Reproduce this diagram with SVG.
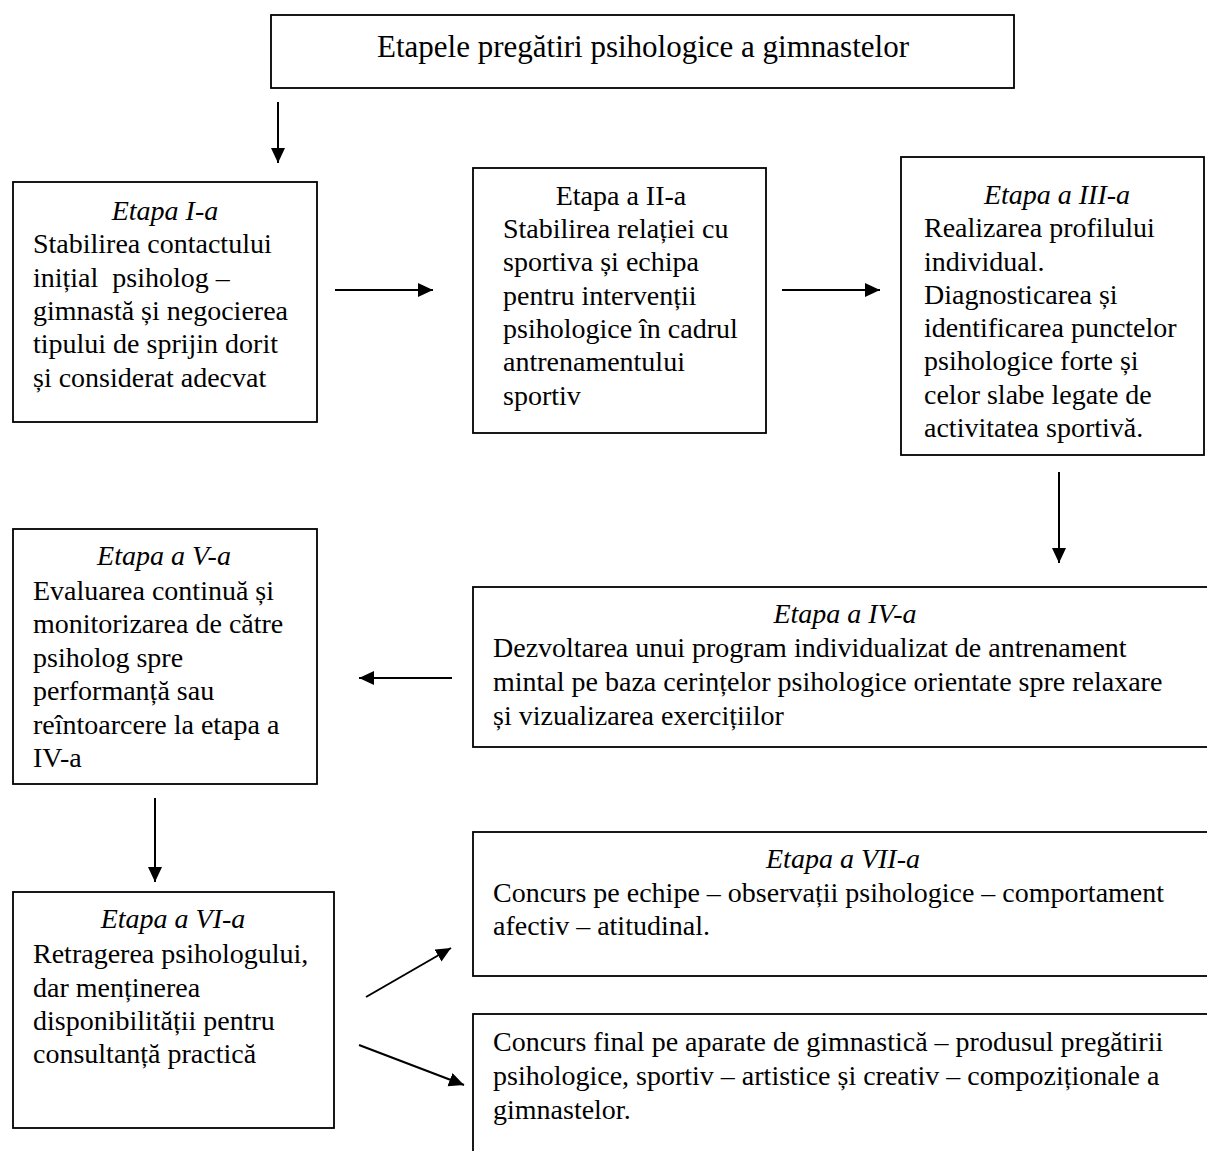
<svg xmlns="http://www.w3.org/2000/svg" width="1207" height="1151" viewBox="0 0 1207 1151">
  <style>
    .box { fill: #ffffff; stroke: #000000; stroke-width: 1.8; }
    .t { font-family: "Liberation Serif", "Times New Roman", serif; font-size: 28px; fill: #000000; }
    .h { font-style: italic; text-anchor: middle; }
    .hr { text-anchor: middle; }
    .title { font-size: 31px; text-anchor: middle; }
    .arrow { stroke: #000000; stroke-width: 2; fill: none; marker-end: url(#head); }
  </style>
  <defs>
    <marker id="head" markerUnits="userSpaceOnUse" markerWidth="16" markerHeight="16" refX="15" refY="7" orient="auto">
      <path d="M0,0 L15,7 L0,14 Z" fill="#000000"/>
    </marker>
  </defs>
  <rect width="1207" height="1151" fill="#ffffff"/>

  <g id="title">
    <rect class="box" x="271" y="15" width="743" height="73"/>
    <text class="t title" x="643" y="57">Etapele pregătiri psihologice a gimnastelor</text>
  </g>

  <g id="etapa1">
    <rect class="box" x="13" y="182" width="304" height="240"/>
    <text class="t h" x="165" y="220">Etapa I-a</text>
    <text class="t" x="33" y="253">Stabilirea contactului</text>
    <text class="t" x="33" y="287" xml:space="preserve">inițial  psiholog –</text>
    <text class="t" x="33" y="320">gimnastă și negocierea</text>
    <text class="t" x="33" y="353">tipului de sprijin dorit</text>
    <text class="t" x="33" y="387">și considerat adecvat</text>
  </g>

  <g id="etapa2">
    <rect class="box" x="473" y="168" width="293" height="265"/>
    <text class="t hr" x="621" y="205">Etapa a II-a</text>
    <text class="t" x="503" y="238">Stabilirea relației cu</text>
    <text class="t" x="503" y="271">sportiva și echipa</text>
    <text class="t" x="503" y="305">pentru intervenții</text>
    <text class="t" x="503" y="338">psihologice în cadrul</text>
    <text class="t" x="503" y="371">antrenamentului</text>
    <text class="t" x="503" y="405">sportiv</text>
  </g>

  <g id="etapa3">
    <rect class="box" x="901" y="157" width="303" height="298"/>
    <text class="t h" x="1057" y="204">Etapa a III-a</text>
    <text class="t" x="924" y="237">Realizarea profilului</text>
    <text class="t" x="924" y="271">individual.</text>
    <text class="t" x="924" y="304">Diagnosticarea și</text>
    <text class="t" x="924" y="337">identificarea punctelor</text>
    <text class="t" x="924" y="370">psihologice forte și</text>
    <text class="t" x="924" y="404">celor slabe legate de</text>
    <text class="t" x="924" y="437">activitatea sportivă.</text>
  </g>

  <g id="etapa4">
    <rect class="box" x="473" y="587" width="740" height="160"/>
    <text class="t h" x="845" y="623">Etapa a IV-a</text>
    <text class="t" x="493" y="657">Dezvoltarea unui program individualizat de antrenament</text>
    <text class="t" x="493" y="691">mintal pe baza cerințelor psihologice orientate spre relaxare</text>
    <text class="t" x="493" y="725">și vizualizarea exercițiilor</text>
  </g>

  <g id="etapa5">
    <rect class="box" x="13" y="529" width="304" height="255"/>
    <text class="t h" x="164" y="565">Etapa a V-a</text>
    <text class="t" x="33" y="600">Evaluarea continuă și</text>
    <text class="t" x="33" y="633">monitorizarea de către</text>
    <text class="t" x="33" y="667">psiholog spre</text>
    <text class="t" x="33" y="700">performanță sau</text>
    <text class="t" x="33" y="734">reîntoarcere la etapa a</text>
    <text class="t" x="33" y="767">IV-a</text>
  </g>

  <g id="etapa6">
    <rect class="box" x="13" y="892" width="321" height="236"/>
    <text class="t h" x="173" y="928">Etapa a VI-a</text>
    <text class="t" x="33" y="963">Retragerea psihologului,</text>
    <text class="t" x="33" y="997">dar menținerea</text>
    <text class="t" x="33" y="1030">disponibilității pentru</text>
    <text class="t" x="33" y="1063">consultanță practică</text>
  </g>

  <g id="etapa7">
    <rect class="box" x="473" y="832" width="740" height="144"/>
    <text class="t h" x="843" y="868">Etapa a VII-a</text>
    <text class="t" x="493" y="902">Concurs pe echipe – observații psihologice – comportament</text>
    <text class="t" x="493" y="935">afectiv – atitudinal.</text>
  </g>

  <g id="concurs-final">
    <rect class="box" x="473" y="1014" width="740" height="150"/>
    <text class="t" x="493" y="1051">Concurs final pe aparate de gimnastică – produsul pregătirii</text>
    <text class="t" x="493" y="1085">psihologice, sportiv – artistice și creativ – compoziționale a</text>
    <text class="t" x="493" y="1119">gimnastelor.</text>
  </g>

  <g id="connectors">
    <line class="arrow" x1="278" y1="102" x2="278" y2="163"/>
    <line class="arrow" x1="335" y1="290" x2="433" y2="290"/>
    <line class="arrow" x1="782" y1="290" x2="880" y2="290"/>
    <line class="arrow" x1="1059" y1="472" x2="1059" y2="563"/>
    <line class="arrow" x1="452" y1="678" x2="359" y2="678"/>
    <line class="arrow" x1="155" y1="798" x2="155" y2="882"/>
    <line class="arrow" x1="366" y1="997" x2="451" y2="948"/>
    <line class="arrow" x1="359" y1="1045" x2="464" y2="1085"/>
  </g>
</svg>
